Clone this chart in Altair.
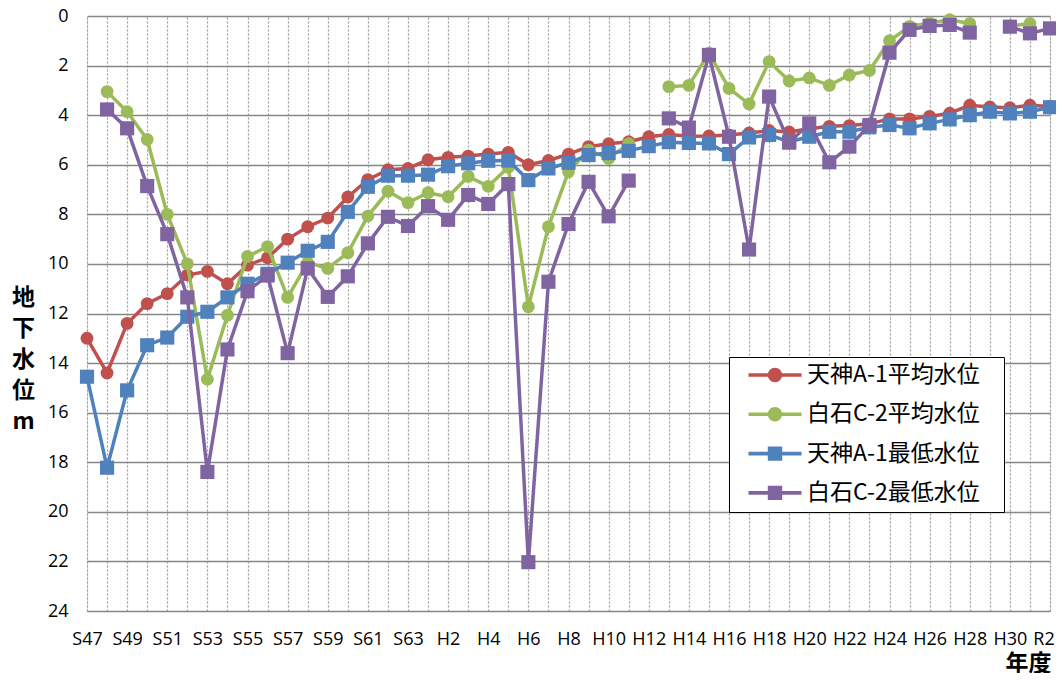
import json
import altair as alt
import pandas as pd

years = ["S47", "S48", "S49", "S50", "S51", "S52", "S53", "S54", "S55", "S56",
         "S57", "S58", "S59", "S60", "S61", "S62", "S63",
         "H1", "H2", "H3", "H4", "H5", "H6", "H7", "H8", "H9", "H10",
         "H11", "H12", "H13", "H14", "H15", "H16", "H17", "H18", "H19", "H20",
         "H21", "H22", "H23", "H24", "H25", "H26", "H27", "H28", "H29", "H30",
         "H31", "R2"]
shown_labels = ["S47", "S49", "S51", "S53", "S55", "S57", "S59", "S61", "S63",
                "H2", "H4", "H6", "H8", "H10", "H12", "H14", "H16", "H18", "H20",
                "H22", "H24", "H26", "H28", "H30", "R2"]

series_names = ["天神A-1平均水位", "白石C-2平均水位", "天神A-1最低水位", "白石C-2最低水位"]
series_colors = ["#C0504D", "#9BBB59", "#4F81BD", "#8064A2"]

tenjin_avg = [13.0, 14.4, 12.4, 11.6, 11.2, 10.45, 10.3, 10.8, 10.05, 9.75,
              9.0, 8.5, 8.15, 7.3, 6.6, 6.2, 6.15,
              5.8, 5.7, 5.65, 5.57, 5.5, 6.0, 5.83, 5.57, 5.27, 5.15,
              5.07, 4.87, 4.78, 4.85, 4.84, 4.8, 4.72, 4.62, 4.68, 4.55,
              4.45, 4.42, 4.35, 4.15, 4.15, 4.05, 3.92, 3.6, 3.67, 3.7,
              3.6, 3.65]
shiraishi_avg = [None, 3.05, 3.86, 4.98, 8.0, 10.0, 14.65, 12.07, 9.7, 9.3,
                 11.35, 9.95, 10.18, 9.55, 8.07, 7.07, 7.53,
                 7.13, 7.29, 6.47, 6.87, 6.1, 11.73, 8.5, 6.28, 5.41, 5.75,
                 5.15, None, 2.85, 2.8, 1.5, 2.92, 3.55, 1.84, 2.62, 2.5,
                 2.8, 2.38, 2.2, 1.0, 0.42, 0.28, 0.15, 0.3, None, 0.4,
                 0.3, None]
tenjin_min = [14.55, 18.22, 15.1, 13.28, 12.97, 12.13, 11.93, 11.35, 10.8, 10.4,
              9.95, 9.47, 9.11, 7.9, 6.89, 6.44, 6.44,
              6.4, 6.06, 5.94, 5.84, 5.83, 6.62, 6.15, 5.92, 5.61, 5.53,
              5.44, 5.25, 5.09, 5.12, 5.14, 5.57, 4.9, 4.8, 5.07, 4.87,
              4.67, 4.67, 4.49, 4.4, 4.53, 4.33, 4.17, 4.0, 3.86, 3.93,
              3.86, 3.68]
shiraishi_min = [None, 3.77, 4.53, 6.86, 8.8, 11.35, 18.39, 13.45, 11.1, 10.47,
                 13.6, 10.18, 11.33, 10.5, 9.17, 8.1, 8.47,
                 7.67, 8.22, 7.22, 7.58, 6.78, 22.03, 10.72, 8.39, 6.69, 8.08,
                 6.64, None, 4.13, 4.5, 1.57, 4.87, 9.42, 3.25, 5.11, 4.33,
                 5.9, 5.27, 4.4, 1.48, 0.56, 0.4, 0.36, 0.67, None, 0.43,
                 0.7, 0.5]

y_ticks = [0, 2, 4, 6, 8, 10, 12, 14, 16, 18, 20, 22, 24]

all_values = [tenjin_avg, shiraishi_avg, tenjin_min, shiraishi_min]
rows = []
for name, vals in zip(series_names, all_values):
    for yr, v in zip(years, vals):
        rows.append({"year": yr, "series": name, "value": v})
df = pd.DataFrame(rows)

TICK_FONT = "Open Sans"
CJK_FONT = "Noto Sans CJK JP"
BLANK = "\u2800"  # blank glyph (not trimmed as whitespace) used as spacer

x_label_expr = (
    "indexof(" + json.dumps(shown_labels) + ", datum.value) < 0 ? '' : "
    "(datum.value === 'R2' ? datum.value + '" + BLANK + "' : datum.value)"
)

x_enc = alt.X(
    "year:O",
    sort=years,
    scale=alt.Scale(type="point", padding=0),
    axis=alt.Axis(
        title="年度",
        labelExpr=x_label_expr,
        labelAngle=0,
        labelOverlap=False,
        labelFont=TICK_FONT,
        labelFontSize=18,
        labelColor="#000000",
        labelPadding=19,
        ticks=False,
        tickSize=0,
        domain=False,
        grid=True,
        gridColor="#9a9a9a",
        gridDash=[2, 2],
        gridWidth=1.2,
        titleFont=CJK_FONT,
        titleFontSize=23,
        titleFontWeight="bold",
        titleColor="#000000",
        titleX=941,
        titleY=59,
        titleAlign="center",
        titleBaseline="alphabetic",
    ),
)

y_enc = alt.Y(
    "value:Q",
    scale=alt.Scale(domain=[0, 24], reverse=True, nice=False, zero=False),
    axis=alt.Axis(
        values=y_ticks,
        title=["地", "下", "水", "位", "m"],
        titleAngle=0,
        titleX=-64,
        titleY=281,
        titleAlign="center",
        titleBaseline="middle",
        titleLineHeight=31,
        titleFont=CJK_FONT,
        titleFontSize=23,
        titleFontWeight="bold",
        titleColor="#000000",
        labelFont=TICK_FONT,
        labelFontSize=18,
        labelColor="#000000",
        labelPadding=19,
        ticks=False,
        tickSize=0,
        domain=False,
        grid=True,
        gridColor="#868686",
        gridWidth=1.5,
    ),
)

# legend symbols: a thick line with a marker in the middle (filled paths)
circle_sym = ("M-2.65,-0.18H2.65V0.18H-2.65Z"
              "M-0.72,0A0.72,0.72,0,1,1,0.72,0A0.72,0.72,0,1,1,-0.72,0Z")
square_sym = ("M-2.65,-0.18H2.65V0.18H-2.65Z"
              "M-0.72,-0.72H0.72V0.72H-0.72Z")
legend_shapes = [circle_sym, circle_sym, square_sym, square_sym]

legend = alt.Legend(
    title=None,
    orient="none",
    legendX=642,
    legendY=341,
    padding=6.5,
    rowPadding=15.3,
    symbolOffset=28,
    labelOffset=20.5,
    labelLimit=400,
    labelExpr="datum.label + '" + BLANK + "'",
    symbolSize=400,
    symbolStrokeWidth=0,
    symbolOpacity=1,
    labelFont=CJK_FONT,
    labelFontSize=23,
    labelColor="#000000",
    strokeColor="#000000",
    fillColor="#ffffff",
)

shapes = ["circle", "circle", "square", "square"]
sizes = [165, 165, 200, 200]

layers = []
for name, col, shp, sz in zip(series_names, series_colors, shapes, sizes):
    base = alt.Chart(df).transform_filter(alt.datum.series == name)
    line = base.mark_line(color=col, strokeWidth=3.5,
                          invalid="break-paths-show-domains").encode(x=x_enc, y=y_enc)
    pts = base.mark_point(color=col, filled=True, opacity=1, shape=shp,
                          size=sz).encode(x=x_enc, y=y_enc)
    layers.extend([line, pts])

# empty layer that only carries the legend (line + marker symbols)
legend_layer = (
    alt.Chart(df)
    .transform_filter("false")
    .mark_point(filled=True, opacity=1)
    .encode(
        x=x_enc,
        y=y_enc,
        color=alt.Color("series:N",
                        scale=alt.Scale(domain=series_names, range=series_colors),
                        legend=legend),
        shape=alt.Shape("series:N",
                        scale=alt.Scale(domain=series_names, range=legend_shapes),
                        legend=legend),
    )
)
layers.append(legend_layer)

chart = (
    alt.layer(*layers)
    .properties(
        width=963,
        height=595,
        autosize=alt.AutoSizeParams(type="none"),
        padding={"left": 79, "top": 8, "right": 6, "bottom": 62},
    )
    .configure_view(strokeWidth=0)
    .configure_legend(strokeWidth=1.5)
    .configure(font=TICK_FONT)
)

chart.save("out.html", embed_options={"renderer": "svg", "actions": False})
